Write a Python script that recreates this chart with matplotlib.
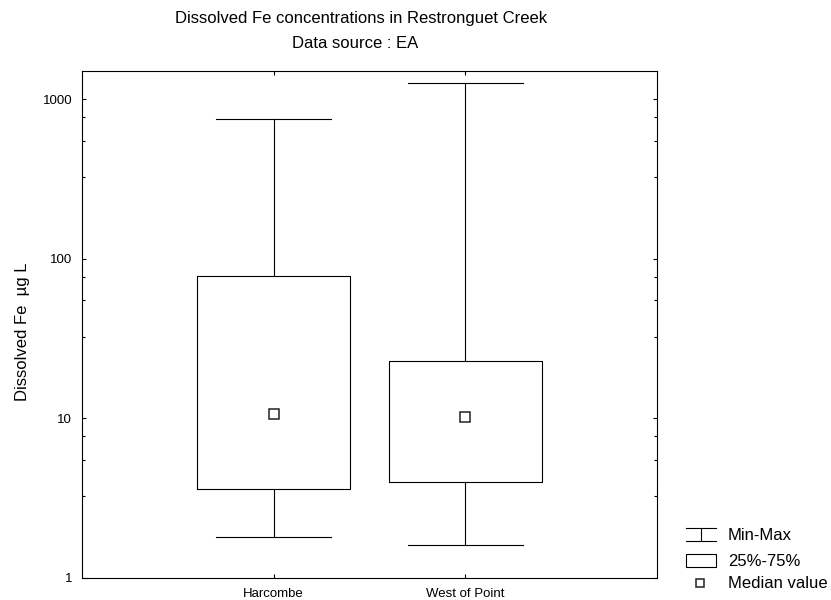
import matplotlib
matplotlib.use("Agg")
import matplotlib.pyplot as plt
from matplotlib.lines import Line2D
from matplotlib.patches import Rectangle
from matplotlib.ticker import FixedLocator, NullFormatter

plt.rcParams['font.family'] = ['Liberation Sans', 'DejaVu Sans']

# data (µg/L)
sites = ['Harcombe', 'West of Point']
mins = [1.8, 1.6]
q1 = [3.6, 4.0]
medians = [10.6, 10.2]
q3 = [78, 23]
maxs = [750, 1270]

major_ticks = [1, 10, 100, 1000]
minor_ticks = [3.25, 5.5, 7.75, 32.5, 55, 77.5, 325, 550, 775]

fig = plt.figure(figsize=(8.31, 6.0), dpi=100)
ax = fig.add_axes([0.0987, 0.0367, 0.6919, 0.8458])

stats = []
for i, name in enumerate(sites):
    stats.append(dict(label=name, whislo=mins[i], q1=q1[i], med=medians[i],
                      q3=q3[i], whishi=maxs[i], fliers=[]))

pos = list(range(1, len(sites) + 1))
line_kw = dict(color='black', linewidth=0.8)
ax.bxp(stats, positions=pos, widths=0.8, capwidths=0.6, showfliers=False,
       boxprops=line_kw, whiskerprops=line_kw, capprops=line_kw,
       medianprops=dict(linewidth=0))
ax.plot(pos, medians, linestyle='none', marker='s', markersize=6.5,
        markerfacecolor='white', markeredgecolor='#222222', markeredgewidth=1.1)

# Dissolved Fe box plot
ax.set_yscale('log')
ax.set_ylim(1, 1515)
ax.set_xlim(0, len(sites) + 1)
ax.yaxis.set_major_locator(FixedLocator(major_ticks))
ax.yaxis.set_minor_locator(FixedLocator(minor_ticks))
ax.yaxis.set_minor_formatter(NullFormatter())
ax.set_yticklabels([str(t) for t in major_ticks])
ax.set_xticks(pos)
ax.set_xticklabels(sites)
ax.tick_params(axis='both', which='both', direction='in', top=True, right=True, width=0.8)
ax.tick_params(axis='y', which='major', length=3, labelsize=9.5, pad=7)
ax.tick_params(axis='y', which='minor', length=2)
ax.tick_params(axis='x', which='major', length=3, labelsize=9.5, pad=7)
for s in ax.spines.values():
    s.set_linewidth(0.8)

ax.set_ylabel('Dissolved Fe  µg L', fontsize=12)
ax.yaxis.set_label_coords(-0.091, 0.485)

fig.text(0.434, 0.97, 'Dissolved Fe concentrations in Restronguet Creek', ha='center', va='center', fontsize=12)
fig.text(0.427, 0.928, 'Data source : EA', ha='center', va='center', fontsize=12)

# hand-made legend at the lower right
W, H = 831.0, 600.0
def fx(px):
    return px / W
def fy(py):
    return 1 - py / H

x0, x1 = 686, 716
for xs, ys in [([x0, x1], [528, 528]), ([x0, x1], [541, 541]), ([701, 701], [528, 541])]:
    fig.add_artist(Line2D([fx(v) for v in xs], [fy(v) for v in ys], color='black', linewidth=0.8))
fig.add_artist(Rectangle((fx(x0), fy(567)), fx(x1) - fx(x0), fy(554) - fy(567),
                         fill=False, edgecolor='black', linewidth=0.8))
fig.add_artist(Line2D([fx(700)], [fy(583)], linestyle='none', marker='s', markersize=5.5,
                      markerfacecolor='white', markeredgecolor='#222222', markeredgewidth=1.1))
for txt, py in [('Min-Max', 535), ('25%-75%', 561), ('Median value', 583)]:
    fig.text(fx(728), fy(py), txt, ha='left', va='center', fontsize=12)

fig.savefig('out.png', dpi=100)
